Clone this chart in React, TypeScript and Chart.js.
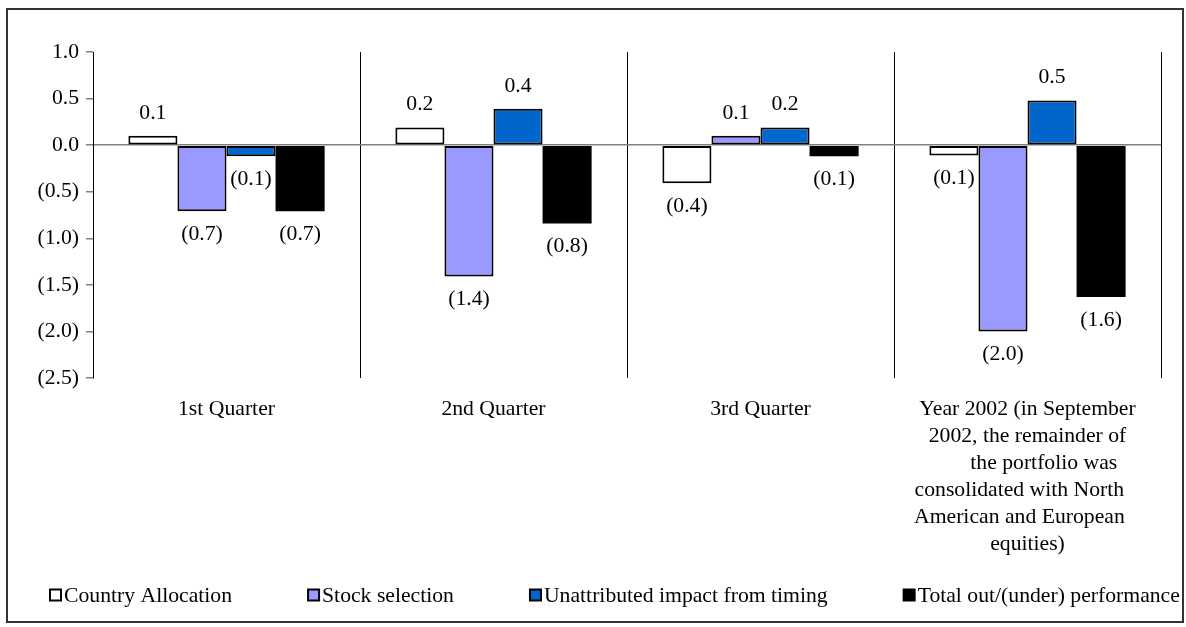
import React, { useEffect, useRef } from "react";
import { Chart, registerables } from "chart.js";

Chart.register(...registerables);

const categories: (string | string[])[] = [
  "1st Quarter",
  "2nd Quarter",
  "3rd Quarter",
  [
    "Year 2002 (in September",
    "2002, the remainder of",
    "      the portfolio was",
    "consolidated with North   ",
    "American and European   ",
    "equities)",
  ],
];

const countryAllocation = [0.1, 0.19, -0.41, -0.11];
const stockSelection = [-0.71, -1.41, 0.1, -2.0];
const unattributedTiming = [-0.12, 0.39, 0.19, 0.48];
const totalPerformance = [-0.71, -0.84, -0.12, -1.63];

const seriesNames = [
  "Country Allocation",
  "Stock selection",
  "Unattributed impact from timing",
  "Total out/(under) performance",
];

const seriesColors = ["#FFFFFF", "#9999FF", "#0066CC", "#000000"];

const yTicks = [1.0, 0.5, 0.0, -0.5, -1.0, -1.5, -2.0, -2.5];

const FONT = "'Liberation Serif', 'Times New Roman', serif";
const FS = 21.7;

const fmt = (v: number) =>
  v < -1e-9 ? `(${Math.abs(v).toFixed(1)})` : Math.abs(v).toFixed(1);

const labelPlugin = {
  id: "barLabels",
  afterDatasetsDraw(chart: any) {
    const ctx = chart.ctx;
    ctx.save();
    ctx.font = `${FS}px ${FONT}`;
    ctx.fillStyle = "#000";
    ctx.textAlign = "center";
    ctx.textBaseline = "middle";
    chart.data.datasets.forEach((ds: any, i: number) => {
      const meta = chart.getDatasetMeta(i);
      meta.data.forEach((el: any, j: number) => {
        const v = ds.data[j];
        const y = v >= 0 ? el.y - 23 : el.y + 23;
        ctx.fillText(fmt(v), el.x, y);
      });
    });
    ctx.restore();
  },
};

const legendPlugin = {
  id: "customLegend",
  afterDraw(chart: any) {
    const ctx = chart.ctx;
    ctx.save();
    ctx.font = `${FS}px ${FONT}`;
    ctx.textBaseline = "middle";
    ctx.textAlign = "left";
    const cy = chart.height - 26;
    const box = 11;
    const gapText = 3;
    const gapItem = 76;
    let x = 42;
    chart.data.datasets.forEach((ds: any) => {
      ctx.fillStyle = ds.backgroundColor;
      ctx.fillRect(x, cy - box / 2, box, box);
      ctx.strokeStyle = "#000";
      ctx.lineWidth = 2;
      ctx.strokeRect(x, cy - box / 2, box, box);
      ctx.fillStyle = "#000";
      const tx = x + box + gapText;
      ctx.fillText(ds.label, tx, cy + 1);
      x = tx + ctx.measureText(ds.label).width + gapItem;
    });
    ctx.restore();
  },
};

export default function App() {
  const ref = useRef<HTMLCanvasElement>(null);
  useEffect(() => {
    if (!ref.current) return;
    Chart.defaults.font.family = FONT;
    const mk = (i: number, data: number[]) => ({
      label: seriesNames[i],
      data,
      backgroundColor: seriesColors[i],
      borderColor: "#000000",
      borderWidth: i === 3 ? 0 : 2,
      borderSkipped: false as const,
    });
    const chart = new Chart(ref.current, {
      type: "bar",
      data: {
        labels: categories,
        datasets: [
          mk(0, countryAllocation),
          mk(1, stockSelection),
          mk(2, unattributedTiming),
          mk(3, totalPerformance),
        ],
      },
      options: {
        animation: false,
        responsive: false,
        maintainAspectRatio: false,
        datasets: { bar: { barPercentage: 1, categoryPercentage: 0.735 } },
        layout: { padding: { top: 42, left: 0, right: 0, bottom: 43 } },
        plugins: {
          tooltip: { enabled: false },
          legend: { display: false },
        },
        scales: {
          x: {
            grid: {
              offset: true,
              color: (c: any) => (c.index === 4 ? "#808080" : "#000000"),
              lineWidth: 1,
              drawTicks: false,
            },
            border: { display: false },
            ticks: {
              color: "#000",
              padding: 18,
              maxRotation: 0,
              autoSkip: false,
              font: { size: FS, family: FONT, lineHeight: 27 / FS },
            },
            afterFit: (s: any) => {
              s.height = 200;
            },
          },
          y: {
            min: -2.5,
            max: 1.0,
            afterBuildTicks: (s: any) => {
              s.ticks = yTicks.map((v) => ({ value: v }));
            },
            grid: {
              color: (c: any) =>
                c.tick && Math.abs(c.tick.value) < 1e-9 ? "#808080" : "rgba(0,0,0,0)",
              tickColor: "#808080",
              tickLength: 7,
              lineWidth: 1.5,
            },
            border: { color: "#000", width: 1 },
            ticks: {
              color: "#000",
              padding: 7,
              font: { size: FS, family: FONT },
              callback: (v: any) => fmt(Number(v)),
            },
            afterFit: (s: any) => {
              s.width = 85;
            },
          },
          y2: {
            position: "right",
            display: true,
            grid: { display: false },
            border: { display: false },
            ticks: { display: false },
            afterFit: (s: any) => {
              s.width = 21;
            },
          },
        },
      },
      plugins: [labelPlugin, legendPlugin],
    });
    return () => chart.destroy();
  }, []);
  return (
    <div
      style={{
        position: "absolute",
        left: 6,
        top: 8,
        width: 1178,
        height: 615,
        border: "2px solid #333",
        boxSizing: "border-box",
        background: "#fff",
      }}
    >
      <canvas ref={ref} width={1174} height={611} style={{ display: "block" }} />
    </div>
  );
}
